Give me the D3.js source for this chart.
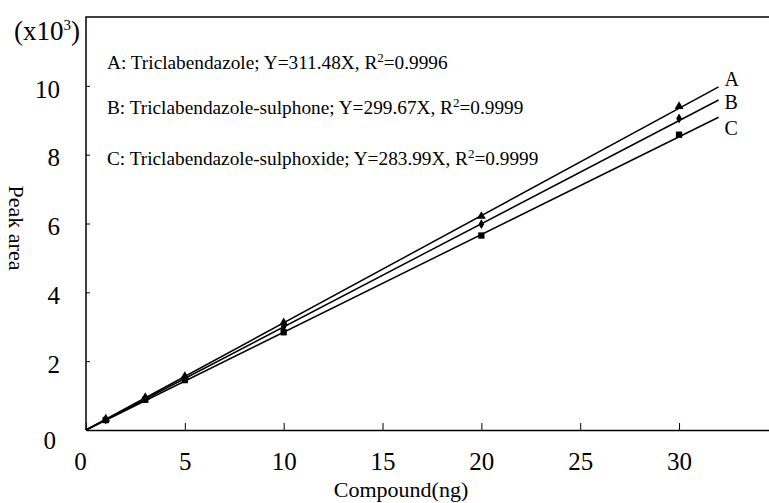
<!DOCTYPE html>
<html lang="en">
<head>
<meta charset="UTF-8">
<title>Calibration curves</title>
<script src="https://d3js.org/d3.v7.min.js"></script>
<style>
  body { margin: 0; background: #fff; }
  svg text { font-family: "Liberation Serif", "Times New Roman", serif; fill: #000; }
</style>
</head>
<body>
<svg width="769" height="503"></svg>
<script>
    // amounts injected (ng)
    const amounts = [1, 3, 5, 10, 20, 30];
    // peak areas (x10^3)
    const seriesA = [0.32, 0.95, 1.56, 3.12, 6.21, 9.40];
    const seriesB = [0.30, 0.92, 1.50, 3.00, 5.98, 9.05];
    const seriesC = [0.29, 0.88, 1.45, 2.84, 5.65, 8.58];
    const slopes = [311.48, 299.67, 283.99];
    const seriesNames = ["A", "B", "C"];
    const legendLines = [
        ["A: Triclabendazole; Y=311.48X, R", "=0.9996"],
        ["B: Triclabendazole-sulphone; Y=299.67X, R", "=0.9999"],
        ["C: Triclabendazole-sulphoxide; Y=283.99X, R", "=0.9999"]
    ];
    const xTicks = [0, 5, 10, 15, 20, 25, 30];
    const yTicks = [0, 2, 4, 6, 8, 10];
    const lineEnd = 32;

    const svg = d3.select("svg"),
        margin = {top: 17, right: 0, bottom: 73, left: 86},
        width = +svg.attr("width") - margin.left - margin.right,
        height = +svg.attr("height") - margin.top - margin.bottom,
        g = svg.append("g").attr("transform", `translate(${margin.left},${margin.top})`);

    const x = d3.scaleLinear().domain([0, 34.55]).range([0, width]);
    const y = d3.scaleLinear().domain([0, 12]).range([height, 0]);

    // frame: left and top borders
    g.append("path")
        .attr("d", `M${width},0H0V${height}`)
        .attr("fill", "none")
        .attr("stroke", "#000")
        .attr("stroke-width", 1.5);

    const xAxis = g.append("g")
        .attr("transform", `translate(0,${height})`)
        .call(d3.axisBottom(x).tickValues(xTicks).tickSizeInner(-7).tickSizeOuter(0).tickPadding(22));
    xAxis.select(".domain").attr("stroke-width", 1.5);
    xAxis.selectAll("text").attr("font-size", 25).attr("font-family", "Liberation Serif")
        .attr("dx", d => d === 0 ? -6 : 0);

    const yAxis = g.append("g")
        .call(d3.axisLeft(y).tickValues(yTicks).tickSizeInner(-4).tickSizeOuter(0).tickPadding(26));
    yAxis.select(".domain").remove();
    yAxis.selectAll("text").attr("font-size", 25).attr("font-family", "Liberation Serif")
        .attr("dx", d => d === 0 ? -4 : 0)
        .attr("dy", d => d === 0 ? "0.72em" : "0.45em");

    // fitted lines through origin
    const line = d3.line().x(d => x(d[0])).y(d => y(d[1]));
    slopes.forEach((s, i) => {
        g.append("path")
            .datum([[0, 0], [lineEnd, s * lineEnd / 1000]])
            .attr("d", line)
            .attr("fill", "none")
            .attr("stroke", "#000")
            .attr("stroke-width", 1.5);
        g.append("text")
            .attr("x", x(lineEnd) + 6)
            .attr("y", y(s * lineEnd / 1000) + [-1, 9, 18][i])
            .attr("font-size", 20)
            .text(seriesNames[i]);
    });

    // markers
    const toPts = vals => amounts.map((a, i) => [a, vals[i]]);
    g.selectAll(".ptA").data(toPts(seriesA)).join("path")
        .attr("transform", d => `translate(${x(d[0])},${y(d[1])})`)
        .attr("d", d3.symbol(d3.symbolTriangle, 34));
    g.selectAll(".ptB").data(toPts(seriesB)).join("path")
        .attr("transform", d => `translate(${x(d[0])},${y(d[1])})`)
        .attr("d", d3.symbol(d3.symbolDiamond, 28));
    g.selectAll(".ptC").data(toPts(seriesC)).join("path")
        .attr("transform", d => `translate(${x(d[0])},${y(d[1])})`)
        .attr("d", d3.symbol(d3.symbolSquare, 40));

    // legend text
    legendLines.forEach((parts, i) => {
        const t = svg.append("text")
            .attr("x", 107)
            .attr("y", [69, 114, 165][i])
            .attr("font-size", 19.3);
        t.append("tspan").text(parts[0]);
        t.append("tspan").attr("font-size", 13).attr("dy", -7).text("2");
        t.append("tspan").attr("dy", 7).text(parts[1]);
    });

    // unit label
    const unit = svg.append("text").attr("x", 14).attr("y", 40).attr("font-size", 27);
    unit.append("tspan").text("(x10");
    unit.append("tspan").attr("font-size", 15).attr("dy", -10).text("3");
    unit.append("tspan").attr("dy", 10).text(")");

    svg.append("text")
        .attr("transform", "translate(9,228) rotate(90)")
        .attr("text-anchor", "middle")
        .attr("font-size", 22)
        .text("Peak area");

    svg.append("text")
        .attr("x", 401)
        .attr("y", 497)
        .attr("text-anchor", "middle")
        .attr("font-size", 22)
        .text("Compound(ng)");
</script>
</body>
</html>
